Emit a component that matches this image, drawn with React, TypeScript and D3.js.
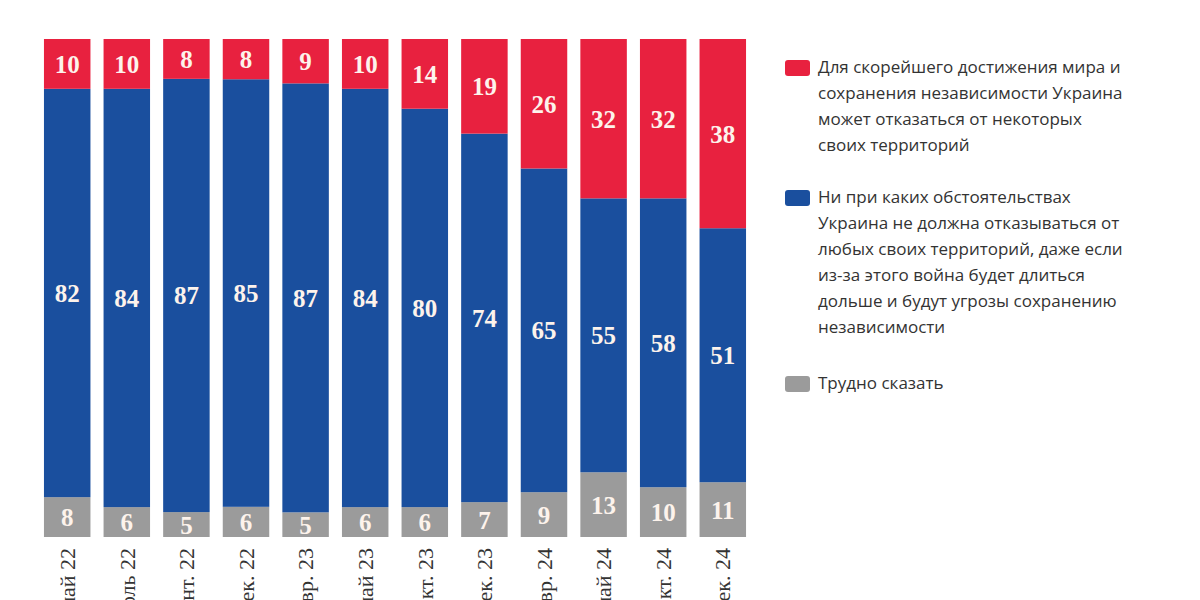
import React from "react";
import * as d3 from "d3";

const periods = [
  "май 22", "июль 22", "сент. 22", "дек. 22", "февр. 23", "май 23",
  "окт. 23", "дек. 23", "февр. 24", "май 24", "окт. 24", "дек. 24",
];
const cede = [10, 10, 8, 8, 9, 10, 14, 19, 26, 32, 32, 38];
const never = [82, 84, 87, 85, 87, 84, 80, 74, 65, 55, 58, 51];
const unsure = [8, 6, 5, 6, 5, 6, 6, 7, 9, 13, 10, 11];

const seriesKeys = ["unsure", "never", "cede"];
const colors = { cede: "#e8213f", never: "#1a4f9e", unsure: "#9b9b9b" };

const legendItems = [
  {
    key: "cede",
    lines: [
      "Для скорейшего достижения мира и",
      "сохранения независимости Украина",
      "может отказаться от некоторых",
      "своих территорий",
    ],
  },
  {
    key: "never",
    lines: [
      "Ни при каких обстоятельствах",
      "Украина не должна отказываться от",
      "любых своих территорий, даже если",
      "из-за этого война будет длиться",
      "дольше и будут угрозы сохранению",
      "независимости",
    ],
  },
  { key: "unsure", lines: ["Трудно сказать"] },
];

const App = () => {
  const width = 1200;
  const height = 600;
  const top = 39;
  const bottom = 537;

  const rows = periods.map((p, i) => ({
    period: p,
    cede: cede[i],
    never: never[i],
    unsure: unsure[i],
  }));

  // every bar fills the full height (shares), as in the original
  const stack = d3.stack().keys(seriesKeys).offset(d3.stackOffsetExpand);
  const layers = stack(rows);

  const x = d3.scaleBand().domain(periods).range([38, 752]).paddingInner(0.22).paddingOuter(0.1);
  const y = d3.scaleLinear().domain([0, 1]).range([bottom, top]);

  const legendStarts = [67, 197, 383];

  return (
    <svg
      width={width}
      height={height}
      style={{ position: "absolute", left: 0, top: 0, background: "#fff" }}
    >
      {layers.map((layer) => (
        <g key={layer.key}>
          {layer.map((d, i) => {
            const y0 = y(d[1]);
            const y1 = y(d[0]);
            const val = rows[i][layer.key];
            return (
              <g key={i}>
                <rect
                  x={x(periods[i])}
                  y={y0}
                  width={x.bandwidth()}
                  height={y1 - y0}
                  fill={colors[layer.key]}
                />
                <text
                  x={x(periods[i]) + x.bandwidth() / 2}
                  y={(y0 + y1) / 2}
                  dy="0.36em"
                  textAnchor="middle"
                  fontFamily="'Liberation Serif', 'DejaVu Serif', serif"
                  fontWeight="bold"
                  fontSize={25}
                  fill="#fdf3ec"
                >
                  {val}
                </text>
              </g>
            );
          })}
        </g>
      ))}

      {periods.map((p) => (
        <text
          key={p}
          transform={`translate(${x(p) + x.bandwidth() / 2},548) rotate(-90)`}
          dy="0.35em"
          textAnchor="end"
          fontFamily="'Liberation Serif', 'DejaVu Serif', serif"
          fontSize={22}
          fill="#333"
        >
          {p}
        </text>
      ))}

      {legendItems.map((item, k) => (
        <g key={item.key} transform={`translate(785,${legendStarts[k]})`}>
          <rect x={0} y={-7} width={25} height={16} rx={3} fill={colors[item.key]} />
          {item.lines.map((line, j) => (
            <text
              key={j}
              x={33}
              y={j * 26}
              dy="0.35em"
              fontFamily="'Open Sans', 'Noto Sans', sans-serif"
              fontSize={17}
              fill="#333"
            >
              {line}
            </text>
          ))}
        </g>
      ))}
    </svg>
  );
};

export default App;
